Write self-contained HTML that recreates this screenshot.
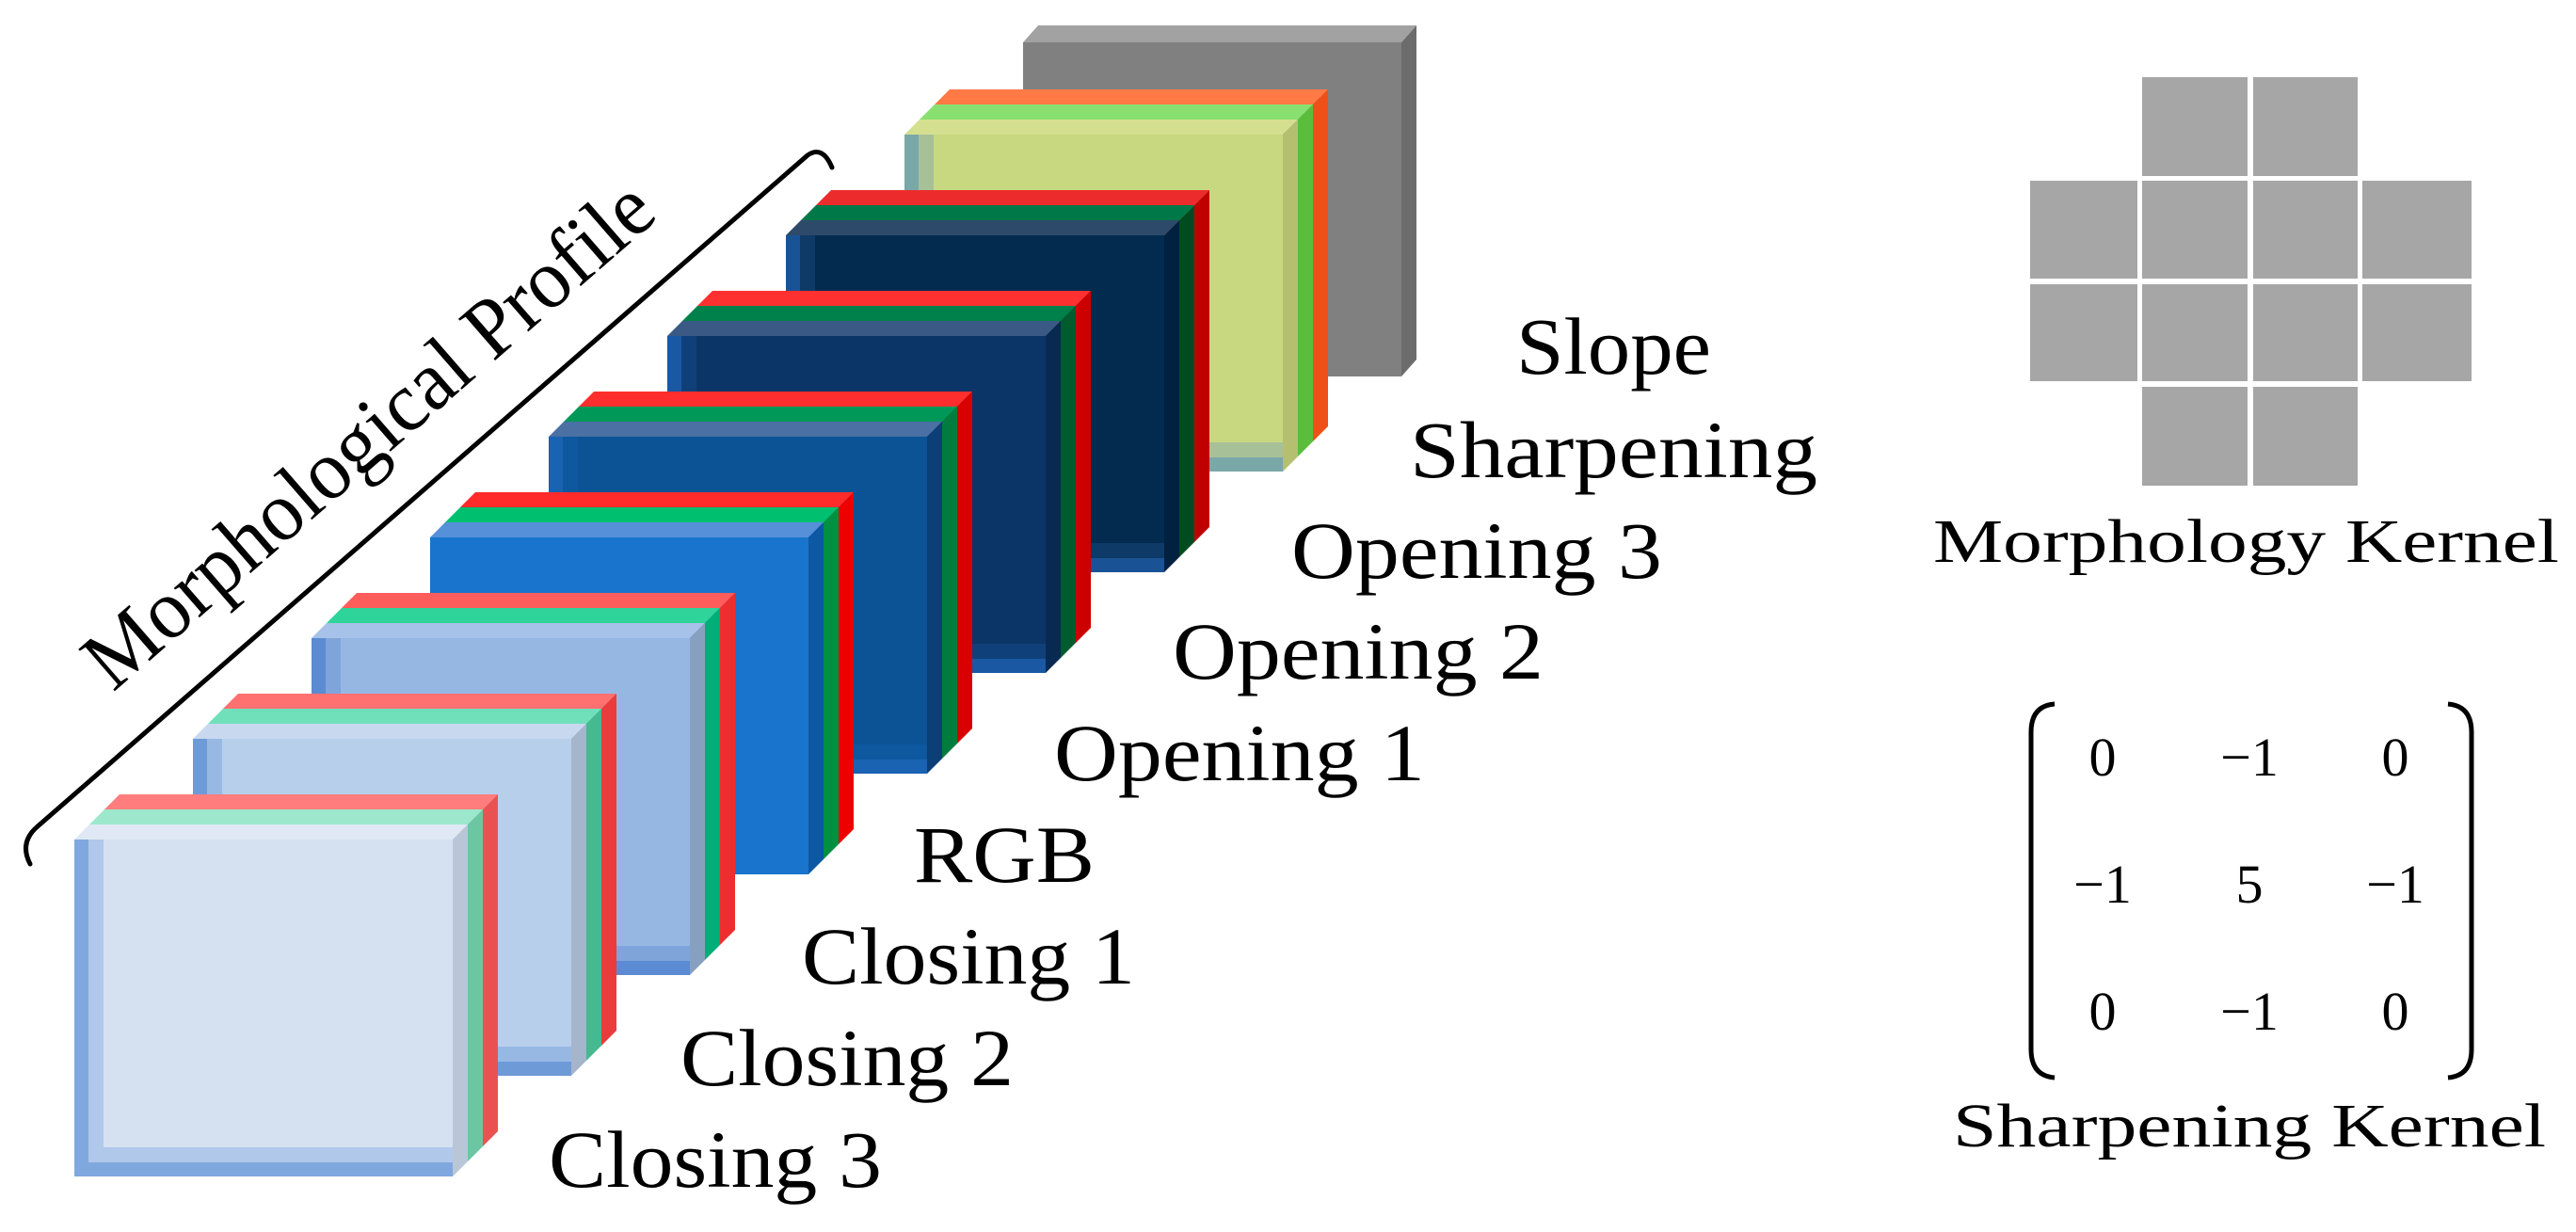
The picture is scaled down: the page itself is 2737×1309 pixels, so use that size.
<!DOCTYPE html>
<html><head><meta charset="utf-8"><style>
html,body{margin:0;padding:0;background:#fff;}
svg{display:block;}
text{font-family:"Liberation Serif",serif;fill:#000;}
</style></head><body>
<svg width="2737" height="1309" viewBox="0 0 2737 1309" xmlns="http://www.w3.org/2000/svg">
<rect width="2737" height="1309" fill="#fff"/>

<g transform="translate(1087,45)">
<polygon points="0,0 16,-18 418,-18 402,0" fill="#a2a2a2"/>
<polygon points="402,0 418,-18 418,337 402,355" fill="#6c6c6c"/>
<rect x="0" y="0" width="402" height="355" fill="#808080"/>
</g>

<g transform="translate(961,143)">
<polygon points="32,-32 48,-48 450,-48 434,-32" fill="#ff7a45"/>
<polygon points="434,-32 450,-48 450,310 434,326" fill="#ee5018"/>
<polygon points="16,-16 32,-32 434,-32 418,-16" fill="#88e070"/>
<polygon points="418,-16 434,-32 434,326 418,342" fill="#5cbc3c"/>
<polygon points="0,0 16,-16 418,-16 402,0" fill="#d4e090"/>
<polygon points="402,0 418,-16 418,342 402,358" fill="#b4c070"/>
<rect x="0" y="0" width="402" height="358" fill="#7aa8a8"/>
<rect x="15" y="0" width="387" height="343" fill="#a8c098"/>
<rect x="31" y="0" width="371" height="327" fill="#c8d880"/>
</g>

<g transform="translate(835,250)">
<polygon points="32,-32 48,-48 450,-48 434,-32" fill="#ec2c2c"/>
<polygon points="434,-32 450,-48 450,310 434,326" fill="#c00000"/>
<polygon points="16,-16 32,-32 434,-32 418,-16" fill="#007848"/>
<polygon points="418,-16 434,-32 434,326 418,342" fill="#004c20"/>
<polygon points="0,0 16,-16 418,-16 402,0" fill="#2e4a6a"/>
<polygon points="402,0 418,-16 418,342 402,358" fill="#022040"/>
<rect x="0" y="0" width="402" height="358" fill="#1a5296"/>
<rect x="15" y="0" width="387" height="343" fill="#0e3a68"/>
<rect x="31" y="0" width="371" height="327" fill="#032b50"/>
</g>

<g transform="translate(709,357)">
<polygon points="32,-32 48,-48 450,-48 434,-32" fill="#ff3030"/>
<polygon points="434,-32 450,-48 450,310 434,326" fill="#cc0000"/>
<polygon points="16,-16 32,-32 434,-32 418,-16" fill="#00804a"/>
<polygon points="418,-16 434,-32 434,326 418,342" fill="#005c2c"/>
<polygon points="0,0 16,-16 418,-16 402,0" fill="#3a5a85"/>
<polygon points="402,0 418,-16 418,342 402,358" fill="#082a52"/>
<rect x="0" y="0" width="402" height="358" fill="#1a58a4"/>
<rect x="15" y="0" width="387" height="343" fill="#10407a"/>
<rect x="31" y="0" width="371" height="327" fill="#0b3566"/>
</g>

<g transform="translate(583,464)">
<polygon points="32,-32 48,-48 450,-48 434,-32" fill="#ff2e2e"/>
<polygon points="434,-32 450,-48 450,310 434,326" fill="#d80000"/>
<polygon points="16,-16 32,-32 434,-32 418,-16" fill="#009858"/>
<polygon points="418,-16 434,-32 434,326 418,342" fill="#007c3c"/>
<polygon points="0,0 16,-16 418,-16 402,0" fill="#4a70a4"/>
<polygon points="402,0 418,-16 418,342 402,358" fill="#0a3f78"/>
<rect x="0" y="0" width="402" height="358" fill="#1a62b2"/>
<rect x="15" y="0" width="387" height="343" fill="#0e58a0"/>
<rect x="31" y="0" width="371" height="327" fill="#0b5394"/>
</g>

<g transform="translate(457,571)">
<polygon points="32,-32 48,-48 450,-48 434,-32" fill="#ff2b2b"/>
<polygon points="434,-32 450,-48 450,310 434,326" fill="#ee0000"/>
<polygon points="16,-16 32,-32 434,-32 418,-16" fill="#00c070"/>
<polygon points="418,-16 434,-32 434,326 418,342" fill="#009040"/>
<polygon points="0,0 16,-16 418,-16 402,0" fill="#5590d8"/>
<polygon points="402,0 418,-16 418,342 402,358" fill="#0d58a4"/>
<rect x="0" y="0" width="402" height="358" fill="#1874cc"/>
</g>

<g transform="translate(331,678)">
<polygon points="32,-32 48,-48 450,-48 434,-32" fill="#ff5c5c"/>
<polygon points="434,-32 450,-48 450,310 434,326" fill="#ee2e2e"/>
<polygon points="16,-16 32,-32 434,-32 418,-16" fill="#2fd49a"/>
<polygon points="418,-16 434,-32 434,326 418,342" fill="#00ae78"/>
<polygon points="0,0 16,-16 418,-16 402,0" fill="#a6c2e8"/>
<polygon points="402,0 418,-16 418,342 402,358" fill="#88a0c0"/>
<rect x="0" y="0" width="402" height="358" fill="#5b8bd2"/>
<rect x="15" y="0" width="387" height="343" fill="#7fa4da"/>
<rect x="31" y="0" width="371" height="327" fill="#97b7e3"/>
</g>

<g transform="translate(205,785)">
<polygon points="32,-32 48,-48 450,-48 434,-32" fill="#ff7070"/>
<polygon points="434,-32 450,-48 450,310 434,326" fill="#ea3c3c"/>
<polygon points="16,-16 32,-32 434,-32 418,-16" fill="#70e0bb"/>
<polygon points="418,-16 434,-32 434,326 418,342" fill="#45b990"/>
<polygon points="0,0 16,-16 418,-16 402,0" fill="#c8d8ef"/>
<polygon points="402,0 418,-16 418,342 402,358" fill="#a4b5cc"/>
<rect x="0" y="0" width="402" height="358" fill="#6e9ad8"/>
<rect x="15" y="0" width="387" height="343" fill="#98b8e4"/>
<rect x="31" y="0" width="371" height="327" fill="#b8cfec"/>
</g>

<g transform="translate(79,892)">
<polygon points="32,-32 48,-48 450,-48 434,-32" fill="#ff7d7d"/>
<polygon points="434,-32 450,-48 450,310 434,326" fill="#ea5252"/>
<polygon points="16,-16 32,-32 434,-32 418,-16" fill="#9de8cc"/>
<polygon points="418,-16 434,-32 434,326 418,342" fill="#6cc6a2"/>
<polygon points="0,0 16,-16 418,-16 402,0" fill="#dfe8f4"/>
<polygon points="402,0 418,-16 418,342 402,358" fill="#b9c6d8"/>
<rect x="0" y="0" width="402" height="358" fill="#7fa8de"/>
<rect x="15" y="0" width="387" height="343" fill="#b0c8ea"/>
<rect x="31" y="0" width="371" height="327" fill="#d5e1f1"/>
</g>

<g font-size="86">
<text x="583" y="1261" textLength="354" lengthAdjust="spacingAndGlyphs">Closing 3</text>
<text x="723" y="1153" textLength="354" lengthAdjust="spacingAndGlyphs">Closing 2</text>
<text x="852" y="1045" textLength="354" lengthAdjust="spacingAndGlyphs">Closing 1</text>
<text x="971" y="937" textLength="192" lengthAdjust="spacingAndGlyphs">RGB</text>
<text x="1120" y="829" textLength="394" lengthAdjust="spacingAndGlyphs">Opening 1</text>
<text x="1246" y="721" textLength="394" lengthAdjust="spacingAndGlyphs">Opening 2</text>
<text x="1372" y="614" textLength="394" lengthAdjust="spacingAndGlyphs">Opening 3</text>
<text x="1498" y="507" textLength="433" lengthAdjust="spacingAndGlyphs">Sharpening</text>
<text x="1611" y="397" textLength="207" lengthAdjust="spacingAndGlyphs">Slope</text>
</g>

<path d="M32,918 Q20,895 40,878 L858,165 Q874,154 884,178" fill="none" stroke="#000" stroke-width="5" stroke-linecap="round"/>
<text x="120" y="736" font-size="90" textLength="770" lengthAdjust="spacingAndGlyphs" transform="rotate(-41 120 736)">Morphological Profile</text>

<g fill="#a6a6a6">
<rect x="2276" y="82" width="112" height="105"/>
<rect x="2394" y="82" width="111" height="105"/>
<rect x="2157" y="192" width="114" height="104"/>
<rect x="2276" y="192" width="112" height="104"/>
<rect x="2394" y="192" width="111" height="104"/>
<rect x="2510" y="192" width="116" height="104"/>
<rect x="2157" y="302" width="114" height="103"/>
<rect x="2276" y="302" width="112" height="103"/>
<rect x="2394" y="302" width="111" height="103"/>
<rect x="2510" y="302" width="116" height="103"/>
<rect x="2276" y="411" width="112" height="105"/>
<rect x="2394" y="411" width="111" height="105"/>
</g>
<text x="2054" y="597" font-size="66" textLength="665" lengthAdjust="spacingAndGlyphs">Morphology Kernel</text>

<path d="M2183,748 Q2158,750 2158,778 L2158,1115 Q2158,1143 2183,1145" fill="none" stroke="#000" stroke-width="5"/>
<path d="M2601,748 Q2626,750 2626,778 L2626,1115 Q2626,1143 2601,1145" fill="none" stroke="#000" stroke-width="5"/>
<g font-size="58" text-anchor="middle">
<text x="2234" y="824">0</text><text x="2390" y="824">−1</text><text x="2545" y="824">0</text>
<text x="2234" y="959">−1</text><text x="2390" y="959">5</text><text x="2545" y="959">−1</text>
<text x="2234" y="1094">0</text><text x="2390" y="1094">−1</text><text x="2545" y="1094">0</text>
</g>
<text x="2075" y="1218" font-size="66" textLength="630" lengthAdjust="spacingAndGlyphs">Sharpening Kernel</text>
</svg>
</body></html>
